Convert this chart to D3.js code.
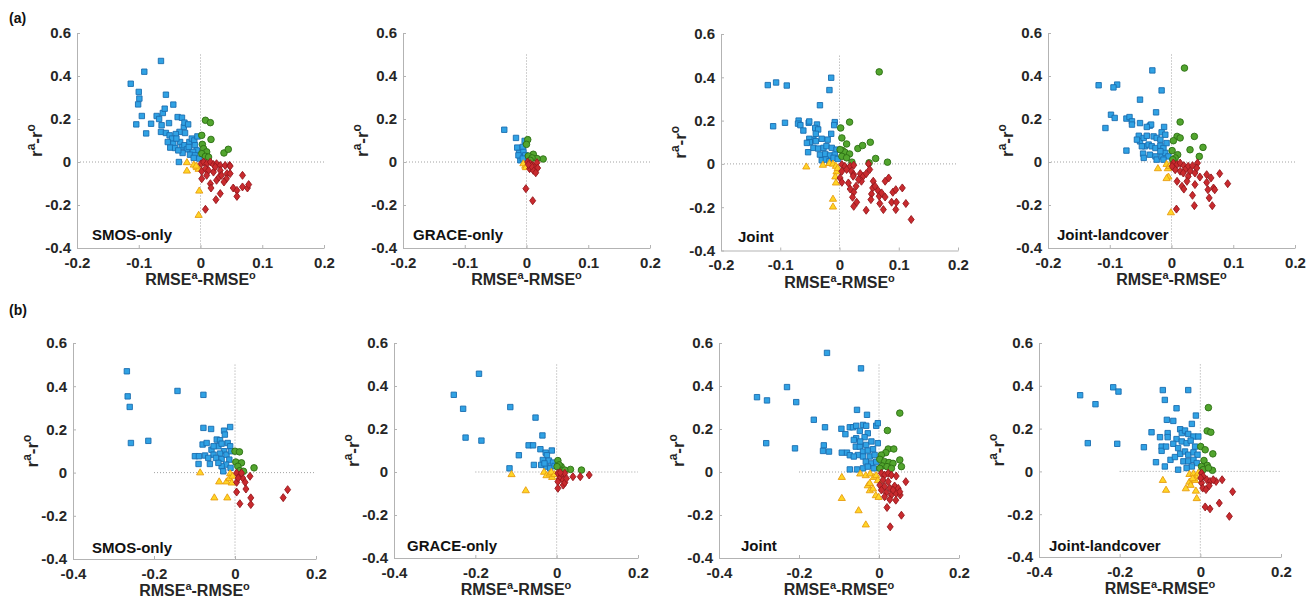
<!DOCTYPE html>
<html>
<head>
<meta charset="utf-8">
<script src="https://cdn.jsdelivr.net/npm/d3@7"></script>
<style>
  body { margin: 0; background: #fff; }
  svg { display: block; }
</style>
</head>
<body>
<div id="wrapper"></div>
<script>
// quadrant groups: blue = RMSE down & r up, green = both up, yellow = both down, red = RMSE up & r down
const groupNames = ["blue", "green", "yellow", "red"];
const yTicks = [-0.4, -0.2, 0, 0.2, 0.4, 0.6];
const xTicksA = [-0.2, -0.1, 0, 0.1, 0.2];
const xTicksB = [-0.4, -0.2, 0, 0.2];
const panelTitles = ["SMOS-only", "GRACE-only", "Joint", "Joint-landcover"];

// ---- row (a) ----
const aSmosBlue = [[-0.113,0.364],[-0.064,0.47],[-0.091,0.42],[-0.100,0.326],[-0.099,0.295],[-0.101,0.268],[-0.095,0.214],[-0.056,0.313],[-0.044,0.267],[-0.104,0.175],[-0.088,0.133],[-0.080,0.178],[-0.071,0.214],[-0.067,0.2],[-0.061,0.228],[-0.058,0.248],[-0.063,0.171],[-0.051,0.181],[-0.064,0.14],[-0.056,0.135],[-0.037,0.209],[-0.030,0.206],[-0.027,0.163],[-0.026,0.183],[-0.020,0.175],[-0.025,0.135],[-0.034,0.14],[-0.040,0.13],[-0.050,0.124],[-0.046,0.109],[-0.053,0.093],[-0.044,0.085],[-0.049,0.067],[-0.041,0.065],[-0.033,0.093],[-0.030,0.07],[-0.026,0.078],[-0.022,0.059],[-0.018,0.093],[-0.014,0.109],[-0.010,0.1],[-0.009,0.078],[-0.006,0.054],[-0.012,0.047],[-0.017,0.034],[-0.009,0.031],[-0.005,0.119],[-0.029,0.042],[-0.035,0.0],[-0.019,0.07],[-0.036,0.054],[-0.039,0.109],[-0.002,0.016],[-0.011,0.019]];
const aSmosGreen = [[0.008,0.194],[0.016,0.183],[0.002,0.124],[0.017,0.105],[0.003,0.082],[0.005,0.062],[0.010,0.047],[0.002,0.039],[0.008,0.026],[0.038,0.042],[0.045,0.059],[0.013,0.023]];
const aSmosYellow = [[-0.022,0.0],[-0.022,-0.039],[-0.011,-0.011],[-0.006,-0.023],[-0.003,-0.031],[-0.002,-0.132],[-0.003,-0.245],[-0.007,-0.016]];
const aSmosRed = [[0.001,-0.008],[0.005,0.0],[0.010,-0.008],[0.016,0.0],[0.021,-0.012],[0.026,-0.008],[0.032,-0.016],[0.040,-0.016],[0.047,-0.016],[0.002,-0.043],[0.008,-0.031],[0.013,-0.039],[0.021,-0.047],[0.032,-0.039],[0.002,-0.078],[0.016,-0.101],[0.017,-0.121],[0.026,-0.085],[0.030,-0.07],[0.034,-0.062],[0.043,-0.054],[0.048,-0.054],[0.042,-0.078],[0.038,-0.093],[0.032,-0.147],[0.025,-0.175],[0.008,-0.22],[0.053,-0.121],[0.059,-0.132],[0.059,-0.16],[0.068,-0.062],[0.068,-0.116],[0.076,-0.121],[0.078,-0.105],[0.048,-0.019],[0.010,-0.062],[0.024,-0.023]];

const aGraceBlue = [[-0.036,0.150],[-0.017,0.112],[-0.015,0.067],[-0.006,0.07],[-0.003,0.098],[-0.012,0.042],[-0.005,0.047],[-0.009,0.023],[-0.010,0.008],[-0.013,0.031],[-0.002,0.031],[-0.006,0.016]];
const aGraceGreen = [[0.002,0.104],[0.0,0.082],[0.011,0.036],[0.027,0.014],[0.003,0.028],[0.017,0.016],[0.009,0.019],[0.006,0.008]];
const aGraceYellow = [[-0.002,-0.016],[-0.005,-0.005],[-0.001,-0.023]];
const aGraceRed = [[0.002,0.0],[0.006,-0.008],[0.010,-0.016],[0.014,-0.023],[0.017,-0.003],[0.018,-0.028],[0.005,-0.031],[0.011,-0.039],[0.015,-0.05],[0.008,-0.019],[-0.001,-0.124],[0.010,-0.18],[0.003,-0.012]];

const aJointBlue = [[-0.121,0.364],[-0.107,0.376],[-0.089,0.362],[-0.112,0.174],[-0.092,0.19],[-0.069,0.2],[-0.070,0.186],[-0.066,0.179],[-0.061,0.154],[-0.052,0.19],[-0.051,0.196],[-0.038,0.182],[-0.041,0.166],[-0.036,0.159],[-0.033,0.271],[-0.017,0.341],[-0.014,0.398],[-0.008,0.193],[-0.009,0.179],[-0.014,0.139],[-0.020,0.112],[-0.030,0.116],[-0.040,0.139],[-0.044,0.112],[-0.051,0.116],[-0.050,0.1],[-0.053,0.054],[-0.044,0.074],[-0.036,0.071],[-0.027,0.074],[-0.022,0.082],[-0.013,0.074],[-0.005,0.066],[-0.033,0.043],[-0.024,0.046],[-0.016,0.039],[-0.008,0.043],[-0.030,0.017],[-0.023,0.02],[-0.017,0.012],[-0.010,0.028],[-0.003,0.023],[-0.040,0.105],[-0.055,0.097]];
const aJointGreen = [[0.067,0.425],[0.002,0.166],[0.017,0.193],[0.004,0.12],[0.012,0.092],[0.031,0.071],[0.039,0.085],[0.052,0.1],[0.061,0.025],[0.081,0.008],[0.005,0.062],[0.009,0.054],[0.017,0.046],[0.004,0.035],[0.012,0.028],[0.021,0.008],[0.001,0.066],[0.050,0.005]];
const aJointYellow = [[-0.056,-0.011],[-0.028,-0.003],[-0.017,0.005],[-0.011,0.002],[-0.006,-0.008],[-0.005,-0.034],[-0.006,-0.085],[-0.011,-0.16],[-0.011,-0.196],[-0.003,-0.018],[-0.007,-0.057]];
const aJointRed = [[0.004,-0.003],[0.009,-0.011],[0.018,-0.011],[0.024,-0.006],[0.012,-0.026],[0.020,-0.034],[0.024,-0.049],[0.004,-0.034],[0.001,-0.065],[0.004,-0.085],[0.015,-0.088],[0.023,-0.057],[0.035,-0.045],[0.040,-0.057],[0.045,-0.045],[0.049,0.0],[0.051,-0.026],[0.037,-0.08],[0.028,-0.103],[0.024,-0.131],[0.022,-0.154],[0.029,-0.177],[0.024,-0.196],[0.045,-0.214],[0.057,-0.08],[0.056,-0.111],[0.054,-0.139],[0.053,-0.165],[0.060,-0.103],[0.065,-0.123],[0.067,-0.149],[0.071,-0.134],[0.068,-0.183],[0.074,-0.211],[0.077,-0.08],[0.083,-0.065],[0.077,-0.153],[0.088,-0.177],[0.090,-0.131],[0.095,-0.119],[0.096,-0.177],[0.095,-0.211],[0.106,-0.111],[0.112,-0.183],[0.121,-0.257],[0.032,-0.072],[0.018,-0.116]];

const aLandBlue = [[-0.118,0.357],[-0.088,0.36],[-0.094,0.347],[-0.031,0.426],[-0.016,0.333],[-0.051,0.29],[-0.025,0.231],[-0.098,0.22],[-0.092,0.205],[-0.107,0.158],[-0.073,0.202],[-0.068,0.209],[-0.064,0.189],[-0.064,0.174],[-0.051,0.181],[-0.035,0.169],[-0.033,0.174],[-0.040,0.163],[-0.012,0.163],[-0.016,0.138],[-0.010,0.127],[-0.053,0.122],[-0.051,0.096],[-0.045,0.112],[-0.040,0.122],[-0.029,0.119],[-0.024,0.112],[-0.018,0.104],[-0.043,0.073],[-0.037,0.081],[-0.032,0.073],[-0.026,0.065],[-0.018,0.076],[-0.013,0.065],[-0.008,0.088],[-0.073,0.053],[-0.046,0.039],[-0.045,0.019],[-0.035,0.034],[-0.026,0.026],[-0.024,0.011],[-0.016,0.026],[-0.010,0.042],[-0.005,0.026],[-0.013,0.011],[-0.018,0.05],[-0.056,0.104],[-0.048,0.073]];
const aLandGreen = [[0.021,0.437],[0.014,0.186],[0.009,0.119],[0.014,0.112],[0.003,0.099],[0.037,0.119],[0.051,0.068],[0.030,0.057],[0.045,0.026],[0.001,0.053],[0.010,0.034],[0.006,0.019],[0.002,0.011]];
const aLandYellow = [[-0.022,-0.028],[-0.008,-0.008],[-0.006,-0.028],[-0.005,-0.067],[-0.008,-0.074],[-0.001,-0.233],[-0.003,-0.017]];
const aLandRed = [[0.003,-0.005],[0.009,-0.012],[0.014,-0.005],[0.020,-0.017],[0.027,-0.02],[0.034,-0.017],[0.042,-0.005],[0.006,-0.036],[0.014,-0.043],[0.022,-0.036],[0.030,-0.043],[0.038,-0.051],[0.027,-0.067],[0.019,-0.051],[0.009,-0.09],[0.017,-0.113],[0.020,-0.126],[0.034,-0.155],[0.037,-0.203],[0.008,-0.219],[0.038,-0.105],[0.046,-0.07],[0.057,-0.059],[0.064,-0.074],[0.057,-0.095],[0.059,-0.129],[0.068,-0.121],[0.070,-0.129],[0.061,-0.167],[0.066,-0.203],[0.078,-0.054],[0.091,-0.101],[0.001,-0.02],[0.041,-0.028],[0.025,-0.09]];

// ---- row (b) ----
const bSmosBlue = [[-0.267,0.469],[-0.265,0.353],[-0.260,0.304],[-0.257,0.137],[-0.214,0.147],[-0.142,0.378],[-0.078,0.36],[-0.078,0.207],[-0.059,0.202],[-0.012,0.211],[-0.027,0.194],[-0.025,0.176],[-0.099,0.076],[-0.089,0.076],[-0.090,0.04],[-0.080,0.13],[-0.070,0.137],[-0.074,0.079],[-0.062,0.04],[-0.058,0.106],[-0.053,0.083],[-0.045,0.153],[-0.037,0.15],[-0.041,0.122],[-0.033,0.134],[-0.018,0.137],[-0.012,0.122],[-0.027,0.099],[-0.037,0.088],[-0.047,0.068],[-0.033,0.063],[-0.021,0.083],[-0.010,0.099],[-0.014,0.06],[-0.022,0.037],[-0.033,0.029],[-0.029,0.006],[-0.011,0.022],[-0.053,0.122],[-0.066,0.068],[-0.041,0.045]];
const bSmosGreen = [[0.0,0.099],[0.011,0.096],[0.047,0.022],[0.002,0.049],[0.016,0.045],[0.007,0.029],[0.012,0.009],[0.021,0.006]];
const bSmosYellow = [[-0.086,0.002],[-0.039,-0.04],[-0.051,-0.114],[-0.019,-0.114],[-0.021,-0.04],[-0.012,-0.002],[-0.014,-0.025],[-0.008,-0.045],[-0.006,-0.014]];
const bSmosRed = [[0.004,-0.002],[0.012,-0.014],[0.019,-0.025],[0.004,-0.045],[0.008,-0.025],[0.025,-0.045],[0.027,-0.076],[0.037,-0.017],[0.004,-0.09],[0.012,-0.144],[0.039,-0.117],[0.039,-0.148],[0.119,-0.116],[0.130,-0.079],[0.016,-0.002]];

const bGraceBlue = [[-0.191,0.457],[-0.253,0.359],[-0.230,0.294],[-0.224,0.16],[-0.185,0.146],[-0.114,0.302],[-0.052,0.253],[-0.035,0.17],[-0.069,0.124],[-0.058,0.124],[-0.093,0.078],[-0.116,0.017],[-0.056,0.033],[-0.040,0.106],[-0.012,0.1],[-0.027,0.09],[-0.024,0.078],[-0.034,0.056],[-0.038,0.033],[-0.019,0.053],[-0.009,0.044],[-0.025,0.025],[-0.016,0.017],[-0.005,0.028],[-0.030,0.04]];
const bGraceGreen = [[0.003,0.053],[0.011,0.025],[0.034,0.012],[0.061,0.009],[0.006,0.033],[0.020,0.009],[0.001,0.025]];
const bGraceYellow = [[-0.111,-0.009],[-0.076,-0.084],[-0.031,0.002],[-0.025,-0.014],[-0.017,-0.006],[-0.011,-0.022],[-0.013,0.002],[-0.005,-0.009]];
const bGraceRed = [[0.003,-0.006],[0.011,-0.014],[0.020,-0.006],[0.007,-0.03],[0.016,-0.037],[0.003,-0.045],[0.016,-0.061],[0.003,-0.076],[0.020,-0.05],[0.040,-0.022],[0.058,-0.022],[0.080,-0.014],[0.009,-0.003],[0.024,-0.03]];

const bJointBlue = [[-0.130,0.554],[-0.045,0.482],[-0.305,0.348],[-0.280,0.333],[-0.230,0.395],[-0.207,0.325],[-0.282,0.134],[-0.210,0.11],[-0.163,0.243],[-0.135,0.208],[-0.138,0.124],[-0.140,0.098],[-0.125,0.095],[-0.094,0.201],[-0.084,0.176],[-0.073,0.208],[-0.065,0.208],[-0.093,0.09],[-0.080,0.09],[-0.073,0.078],[-0.073,0.012],[-0.055,0.289],[-0.030,0.266],[-0.057,0.215],[-0.048,0.191],[-0.040,0.219],[-0.032,0.215],[-0.007,0.215],[-0.003,0.227],[-0.028,0.18],[-0.036,0.162],[-0.057,0.157],[-0.063,0.149],[-0.058,0.118],[-0.048,0.118],[-0.032,0.126],[-0.019,0.142],[-0.003,0.134],[-0.040,0.095],[-0.028,0.1],[-0.015,0.106],[-0.053,0.079],[-0.040,0.072],[-0.023,0.072],[-0.011,0.079],[-0.033,0.048],[-0.019,0.04],[-0.007,0.048],[-0.055,0.012],[-0.040,0.017],[-0.028,0.025],[-0.013,0.017],[-0.063,0.072],[-0.047,0.142]];
const bJointGreen = [[0.052,0.274],[0.021,0.193],[0.023,0.107],[0.037,0.107],[0.017,0.09],[0.052,0.056],[0.056,0.025],[0.006,0.079],[0.002,0.059],[0.014,0.048],[0.025,0.044],[0.035,0.04],[0.008,0.028],[0.020,0.025],[0.031,0.017],[0.002,0.017]];
const bJointYellow = [[-0.093,-0.022],[-0.093,-0.12],[-0.051,-0.177],[-0.033,-0.243],[-0.047,-0.006],[-0.033,-0.014],[-0.022,-0.006],[-0.013,-0.022],[-0.007,-0.014],[-0.028,-0.061],[-0.023,-0.084],[-0.015,-0.076],[-0.008,-0.107],[-0.001,-0.115],[-0.023,-0.05],[-0.003,-0.037]];
const bJointRed = [[0.006,-0.006],[0.014,-0.014],[0.023,-0.006],[0.031,-0.014],[0.043,-0.019],[0.067,-0.045],[0.010,-0.037],[0.023,-0.045],[0.002,-0.061],[0.014,-0.068],[0.027,-0.076],[0.039,-0.065],[0.048,-0.076],[0.018,-0.096],[0.031,-0.107],[0.043,-0.1],[0.053,-0.107],[0.027,-0.128],[0.042,-0.131],[0.020,-0.165],[0.056,-0.201],[0.028,-0.255],[0.006,-0.084],[0.035,-0.084],[0.052,-0.092],[0.014,-0.115]];

const bLandBlue = [[-0.298,0.356],[-0.260,0.314],[-0.279,0.132],[-0.216,0.393],[-0.203,0.373],[-0.206,0.129],[-0.140,0.113],[-0.121,0.183],[-0.110,0.043],[-0.093,0.38],[-0.088,0.334],[-0.030,0.38],[-0.059,0.295],[-0.083,0.241],[-0.067,0.236],[-0.011,0.261],[-0.021,0.222],[-0.100,0.16],[-0.096,0.116],[-0.096,0.096],[-0.081,0.179],[-0.081,0.16],[-0.085,0.116],[-0.088,0.023],[-0.074,0.054],[-0.050,0.197],[-0.046,0.179],[-0.059,0.151],[-0.038,0.191],[-0.030,0.175],[-0.017,0.163],[-0.005,0.163],[-0.067,0.129],[-0.055,0.109],[-0.046,0.14],[-0.034,0.132],[-0.024,0.144],[-0.013,0.116],[-0.050,0.082],[-0.038,0.093],[-0.030,0.078],[-0.017,0.089],[-0.007,0.078],[-0.042,0.047],[-0.030,0.047],[-0.017,0.054],[-0.009,0.039],[-0.021,0.023],[-0.055,0.008],[-0.034,0.016],[-0.063,0.067]];
const bLandGreen = [[0.020,0.298],[0.017,0.189],[0.026,0.183],[0.001,0.116],[0.012,0.101],[0.031,0.082],[0.009,0.051],[0.017,0.028],[0.003,0.023],[0.030,0.005],[0.007,0.008],[0.020,0.016]];
const bLandYellow = [[-0.093,-0.039],[-0.085,-0.085],[-0.036,-0.078],[-0.027,-0.047],[-0.027,-0.011],[-0.017,-0.008],[-0.011,-0.023],[-0.024,-0.062],[-0.013,-0.039],[-0.011,-0.089],[-0.009,-0.124],[-0.005,-0.005],[-0.019,-0.031]];
const bLandRed = [[0.003,-0.008],[0.007,-0.023],[0.016,-0.039],[0.003,-0.054],[0.024,-0.047],[0.039,-0.047],[0.054,-0.039],[0.006,-0.078],[0.014,-0.085],[0.022,-0.067],[0.012,-0.166],[0.024,-0.175],[0.047,-0.148],[0.072,-0.21],[0.080,-0.095],[0.032,-0.039],[0.001,-0.031]];

// pixel boxes of the 8 axes (left, right, top, bottom) and title offset
const layout = [
  {L: 77,   R: 324,  T: 33,  B: 248,   tdx: 15, tdy: 8},
  {L: 403,  R: 650,  T: 33,  B: 248,   tdx: 10, tdy: 8},
  {L: 721,  R: 958,  T: 34,  B: 250.5, tdx: 17, tdy: 9},
  {L: 1048, R: 1295, T: 33,  B: 248,   tdx: 9,  tdy: 8},
  {L: 73,   R: 316,  T: 343, B: 559,   tdx: 19, tdy: 6},
  {L: 394,  R: 638,  T: 343, B: 558,   tdx: 13, tdy: 7},
  {L: 719,  R: 959,  T: 343, B: 558,   tdx: 22, tdy: 7},
  {L: 1039, R: 1281, T: 343, B: 557,   tdx: 10, tdy: 6}
];

const rowA = [
  [aSmosBlue, aSmosGreen, aSmosYellow, aSmosRed],
  [aGraceBlue, aGraceGreen, aGraceYellow, aGraceRed],
  [aJointBlue, aJointGreen, aJointYellow, aJointRed],
  [aLandBlue, aLandGreen, aLandYellow, aLandRed]
];
const rowB = [
  [bSmosBlue, bSmosGreen, bSmosYellow, bSmosRed],
  [bGraceBlue, bGraceGreen, bGraceYellow, bGraceRed],
  [bJointBlue, bJointGreen, bJointYellow, bJointRed],
  [bLandBlue, bLandGreen, bLandYellow, bLandRed]
];

const styles = {
  blue:   {fill: "#30a2e4", stroke: "#1a6db0"},
  green:  {fill: "#52a52e", stroke: "#2c6e14"},
  yellow: {fill: "#ffd526", stroke: "#e89c10"},
  red:    {fill: "#c92a2e", stroke: "#95191d"}
};

const shapes = {
  blue:   "M-2.7,-2.7H2.7V2.7H-2.7Z",
  green:  d3.symbol(d3.symbolCircle, 34)(),
  yellow: "M0,-3.4L3.6,2.7H-3.6Z",
  red:    "M0,-4L3,0L0,4L-3,0Z"
};

const fmt = d => String(d);

let svg = d3.select("#wrapper").append("svg")
  .attr("width", 1309)
  .attr("height", 606)
  .style("font-family", "'Liberation Sans', Arial, Helvetica, sans-serif")
  .style("font-weight", "bold");

svg.append("text").attr("x", 9).attr("y", 23).attr("font-size", 14).attr("fill", "#111").text("(a)");
svg.append("text").attr("x", 9).attr("y", 315).attr("font-size", 14).attr("fill", "#111").text("(b)");

function drawPanel(box, groups, xDomain, xTicks, title) {
  const xScale = d3.scaleLinear().domain(xDomain).range([box.L, box.R]);
  const yScale = d3.scaleLinear().domain([-0.4, 0.6]).range([box.B, box.T]);

  const g = svg.append("g");

  // reference lines
  g.append("line")
    .attr("x1", xScale(-0.2)).attr("x2", xScale(0.2))
    .attr("y1", yScale(0)).attr("y2", yScale(0))
    .attr("stroke", "#8c8c8c").attr("stroke-width", 0.8).attr("stroke-dasharray", "1,2");
  g.append("line")
    .attr("x1", xScale(0)).attr("x2", xScale(0))
    .attr("y1", yScale(0.5)).attr("y2", yScale(-0.4))
    .attr("stroke", "#8c8c8c").attr("stroke-width", 0.8).attr("stroke-dasharray", "1,2");

  const xAxisGen = d3.axisBottom(xScale).tickValues(xTicks).tickFormat(fmt)
    .tickSizeInner(-3).tickSizeOuter(0).tickPadding(9);
  const yAxisGen = d3.axisLeft(yScale).tickValues(yTicks).tickFormat(fmt)
    .tickSizeInner(-3).tickSizeOuter(0).tickPadding(6);

  const axisX = g.append("g").attr("transform", `translate(0,${box.B})`).call(xAxisGen);
  const axisY = g.append("g").attr("transform", `translate(${box.L},0)`).call(yAxisGen);
  [axisX, axisY].forEach(ax => {
    ax.select(".domain").attr("stroke", "#b3b3b3");
    ax.selectAll(".tick line").attr("stroke", "#b3b3b3");
    ax.selectAll(".tick text")
      .attr("fill", "#262626")
      .style("font-size", "15px")
      .style("font-weight", "bold")
      .style("font-family", "'Liberation Sans', Arial, Helvetica, sans-serif");
  });

  // markers
  groupNames.forEach((name, i) => {
    g.append("g").selectAll("path")
      .data(groups[i])
      .enter()
      .append("path")
      .attr("d", shapes[name])
      .attr("transform", d => `translate(${xScale(d[0])},${yScale(d[1])})`)
      .attr("fill", styles[name].fill)
      .attr("stroke", styles[name].stroke)
      .attr("stroke-width", 0.9);
  });

  // x label
  const xl = g.append("text")
    .attr("x", (box.L + box.R) / 2)
    .attr("y", box.B + 37)
    .attr("text-anchor", "middle")
    .attr("font-size", 16)
    .attr("fill", "#262626");
  xl.append("tspan").text("RMSE");
  xl.append("tspan").attr("dy", -6).attr("font-size", 11).text("a");
  xl.append("tspan").attr("dy", 6).text("-RMSE");
  xl.append("tspan").attr("dy", -6).attr("font-size", 11).text("o");

  // y label
  const yl = g.append("text")
    .attr("transform", `translate(${box.L - 35},${(box.T + box.B) / 2}) rotate(-90)`)
    .attr("text-anchor", "middle")
    .attr("font-size", 17)
    .attr("fill", "#262626");
  yl.append("tspan").text("r");
  yl.append("tspan").attr("dy", -7).attr("font-size", 12).text("a");
  yl.append("tspan").attr("dy", 7).text("-r");
  yl.append("tspan").attr("dy", -7).attr("font-size", 12).text("o");

  // panel title
  g.append("text")
    .attr("x", box.L + box.tdx)
    .attr("y", box.B - box.tdy)
    .attr("font-size", 15)
    .attr("fill", "#111")
    .text(title);
}

rowA.forEach((groups, i) => drawPanel(layout[i], groups, [-0.2, 0.2], xTicksA, panelTitles[i]));
rowB.forEach((groups, i) => drawPanel(layout[i + 4], groups, [-0.4, 0.2], xTicksB, panelTitles[i]));
</script>
</body>
</html>
